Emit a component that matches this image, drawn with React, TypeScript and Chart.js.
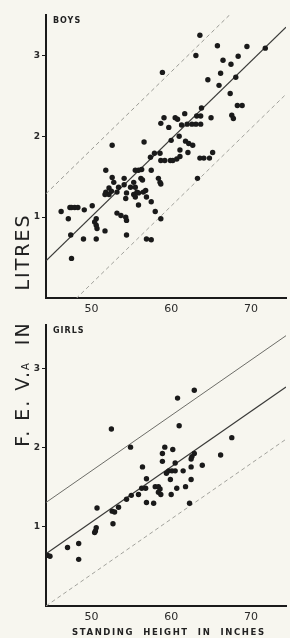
import React, { useEffect, useRef } from "react";
import { Chart, registerables } from "chart.js";

Chart.register(...registerables);

// ---- Data (standing height in inches, F.E.V. in litres) ----
const xTickValues = [50, 60, 70];
const yTickValues = [1, 2, 3];

const boysHeight = [
  63.6, 65.8, 69.5, 71.8, 63.1, 68.4, 66.5, 67.5, 58.9, 66.2, 64.6, 68.1, 66.0, 67.4, 68.3, 68.9,
  67.6, 67.8, 63.8, 61.7, 63.2, 63.7, 65.0, 59.1, 60.5, 60.8, 58.7, 59.7, 61.3, 62.0, 62.6, 63.1,
  63.7, 61.0, 60.0, 61.8, 62.2, 62.7, 52.6, 56.6, 61.1, 62.1, 65.2, 58.6, 57.4, 57.9, 58.7, 59.2,
  59.9, 60.2, 60.7, 61.1, 63.6, 64.1, 64.8, 63.3, 51.8, 55.5, 55.9, 56.3, 57.5, 52.6, 52.8, 54.1,
  56.2, 56.4, 58.4, 58.6, 58.7, 52.2, 53.4, 54.9, 52.5, 51.8, 52.2, 51.7, 53.2, 54.1, 54.4, 54.3,
  55.3, 55.5, 55.7, 55.3, 55.5, 55.9, 56.5, 56.8, 56.9, 55.9, 57.5, 58.0, 58.7, 54.4, 53.2, 53.7,
  54.3, 46.2, 47.3, 47.5, 47.9, 48.3, 49.1, 50.1, 47.1, 50.6, 50.4, 50.6, 50.7, 51.7, 47.4, 49.0,
  50.6, 54.4, 56.9, 57.5, 47.5,
];
const boysFev = [
  3.25, 3.12, 3.11, 3.09, 3.0, 2.99, 2.94, 2.89, 2.79, 2.78, 2.7, 2.73, 2.63, 2.53, 2.38, 2.38,
  2.26, 2.22, 2.35, 2.28, 2.25, 2.25, 2.23, 2.23, 2.23, 2.21, 2.16, 2.11, 2.14, 2.15, 2.15, 2.15,
  2.15, 2.0, 1.95, 1.94, 1.91, 1.89, 1.89, 1.93, 1.83, 1.8, 1.8, 1.79, 1.74, 1.79, 1.7, 1.7,
  1.7, 1.7, 1.72, 1.75, 1.73, 1.73, 1.73, 1.48, 1.58, 1.58, 1.58, 1.59, 1.58, 1.49, 1.43, 1.48,
  1.48, 1.46, 1.48, 1.43, 1.41, 1.36, 1.37, 1.37, 1.32, 1.31, 1.28, 1.28, 1.31, 1.4, 1.3, 1.23,
  1.43, 1.37, 1.31, 1.28, 1.25, 1.3, 1.31, 1.33, 1.25, 1.15, 1.19, 1.07, 0.98, 0.96, 1.05, 1.02,
  1.0, 1.07, 1.12, 1.12, 1.12, 1.12, 1.09, 1.14, 0.98, 0.98, 0.94, 0.9, 0.86, 0.83, 0.78, 0.73,
  0.73, 0.78, 0.73, 0.72, 0.49,
];

const girlsHeight = [
  62.9, 60.8, 61.0, 52.5, 67.6, 54.9, 59.2, 60.2, 66.2, 58.9, 62.9, 62.6, 62.5, 58.9, 60.5, 56.4,
  62.5, 63.9, 59.7, 60.1, 60.5, 59.4, 61.5, 56.9, 59.9, 62.5, 56.3, 56.8, 58.0, 58.4, 58.6, 58.4,
  58.7, 60.7, 61.8, 60.0, 55.9, 55.0, 54.4, 56.9, 57.8, 62.3, 53.4, 52.6, 52.9, 50.7, 52.7, 50.6,
  50.5, 50.4, 48.4, 47.0, 48.4, 44.5, 44.8,
];
const girlsFev = [
  2.73, 2.63, 2.28, 2.24, 2.13, 2.01, 2.01, 1.98, 1.91, 1.93, 1.93, 1.89, 1.86, 1.83, 1.81, 1.76,
  1.76, 1.78, 1.71, 1.71, 1.71, 1.68, 1.71, 1.61, 1.6, 1.6, 1.49, 1.49, 1.51, 1.51, 1.48, 1.44,
  1.41, 1.49, 1.51, 1.41, 1.41, 1.4, 1.35, 1.31, 1.3, 1.3, 1.25, 1.2, 1.19, 1.24, 1.04, 0.99,
  0.95, 0.93, 0.79, 0.74, 0.59, 0.64, 0.63,
];

// regression line and limits, at the ends of the height range
const fitHeight = [44.3, 74.4];
const boysFit = [0.46, 3.35];
const boysUpper = [1.29, 4.18];
const boysLower = [-0.37, 2.52];
const girlsFit = [0.66, 2.77];
const girlsUpper = [1.31, 3.42];
const girlsLower = [0.0, 2.11];

const INK = "#1a1a1a";
const BG = "#f7f6ef";

function pts(xs: number[], ys: number[]) {
  return xs.map((x, i) => ({ x, y: ys[i] }));
}

function lineSet(ys: number[], color: string, dash: number[], width: number) {
  return {
    type: "scatter" as const,
    data: pts(fitHeight, ys),
    showLine: true,
    borderColor: color,
    borderWidth: width,
    borderDash: dash,
    pointRadius: 0,
    order: 2,
  };
}

function makeConfig(
  hs: number[],
  fs: number[],
  fit: number[],
  up: number[],
  lo: number[],
  upDash: number[],
  yMax: number,
  padTop: number,
  xAxisH: number
): any {
  return {
    type: "scatter",
    data: {
      datasets: [
        lineSet(up, upDash.length ? "#9a9a94" : "#6d6d68", upDash, 1),
        lineSet(fit, "#3a3a38", [], 1.2),
        lineSet(lo, "#a2a29c", [4, 3], 1),
        {
          type: "scatter",
          data: pts(hs, fs),
          pointRadius: 2.7,
          pointBackgroundColor: INK,
          pointBorderWidth: 0,
          order: 1,
        },
      ],
    },
    options: {
      responsive: false,
      animation: false,
      devicePixelRatio: 1,
      layout: { padding: { top: padTop, left: 0, right: 0, bottom: 0 } },
      plugins: { legend: { display: false }, tooltip: { enabled: false } },
      scales: {
        x: {
          type: "linear",
          min: fitHeight[0],
          max: fitHeight[1],
          afterBuildTicks: (s: any) => {
            s.ticks = xTickValues.map((v) => ({ value: v }));
          },
          afterFit: (s: any) => {
            s.height = xAxisH;
          },
          grid: { display: true, drawOnChartArea: false, drawTicks: false },
          border: { display: true, color: INK, width: 2 },
          ticks: {
            padding: 5,
            color: "#2a2a2a",
            font: { family: "DejaVu Sans", size: 11 },
          },
        },
        y: {
          type: "linear",
          min: 0,
          max: yMax,
          afterBuildTicks: (s: any) => {
            s.ticks = yTickValues.map((v) => ({ value: v }));
          },
          afterFit: (s: any) => {
            s.width = 46;
          },
          grid: {
            display: true,
            drawOnChartArea: false,
            drawTicks: true,
            tickLength: 4,
            color: INK,
            lineWidth: 1,
          },
          border: { display: true, color: INK, width: 2 },
          ticks: {
            padding: 2,
            color: "#2a2a2a",
            font: { family: "DejaVu Sans", size: 9, weight: "bold" },
          },
        },
      },
    },
  };
}

export default function App() {
  const topRef = useRef<HTMLCanvasElement>(null);
  const botRef = useRef<HTMLCanvasElement>(null);

  useEffect(() => {
    const c1 = new Chart(
      topRef.current!,
      makeConfig(boysHeight, boysFev, boysFit, boysUpper, boysLower, [4, 3], 3.5, 15, 22)
    );
    const c2 = new Chart(
      botRef.current!,
      makeConfig(girlsHeight, girlsFev, girlsFit, girlsUpper, girlsLower, [], 3.55, 4, 32)
    );
    return () => {
      c1.destroy();
      c2.destroy();
    };
  }, []);

  const rot: React.CSSProperties = {
    position: "absolute",
    transform: "translate(-50%, -50%) rotate(-90deg)",
    whiteSpace: "nowrap",
    fontFamily: "DejaVu Sans",
    fontSize: 19,
    letterSpacing: 2,
    color: "#222",
  };
  const small: React.CSSProperties = {
    position: "absolute",
    fontFamily: "DejaVu Sans",
    fontWeight: "bold",
    fontSize: 8,
    letterSpacing: 1,
    color: "#222",
    whiteSpace: "nowrap",
  };

  return (
    <div
      style={{
        position: "absolute",
        left: 0,
        top: 0,
        width: 290,
        height: 638,
        background: BG,
        overflow: "hidden",
      }}
    >
      <canvas
        ref={topRef}
        width={290}
        height={320}
        style={{ position: "absolute", left: 0, top: 0, width: 290, height: 320 }}
      />
      <canvas
        ref={botRef}
        width={290}
        height={320}
        style={{ position: "absolute", left: 0, top: 318, width: 290, height: 320 }}
      />
      <div style={{ ...small, left: 53, top: 16 }}>BOYS</div>
      <div style={{ ...small, left: 53, top: 326 }}>GIRLS</div>
      <div style={{ ...rot, left: 22, top: 252 }}>LITRES</div>
      <div style={{ ...rot, left: 22, top: 384 }}>
        F. E. V.<span style={{ fontSize: 10 }}>A</span>&nbsp;&nbsp;IN
      </div>
      <div style={{ ...small, left: 72, top: 627, letterSpacing: 1.6, fontSize: 8.5 }}>
        STANDING&nbsp; HEIGHT&nbsp; IN&nbsp; INCHES
      </div>
    </div>
  );
}
